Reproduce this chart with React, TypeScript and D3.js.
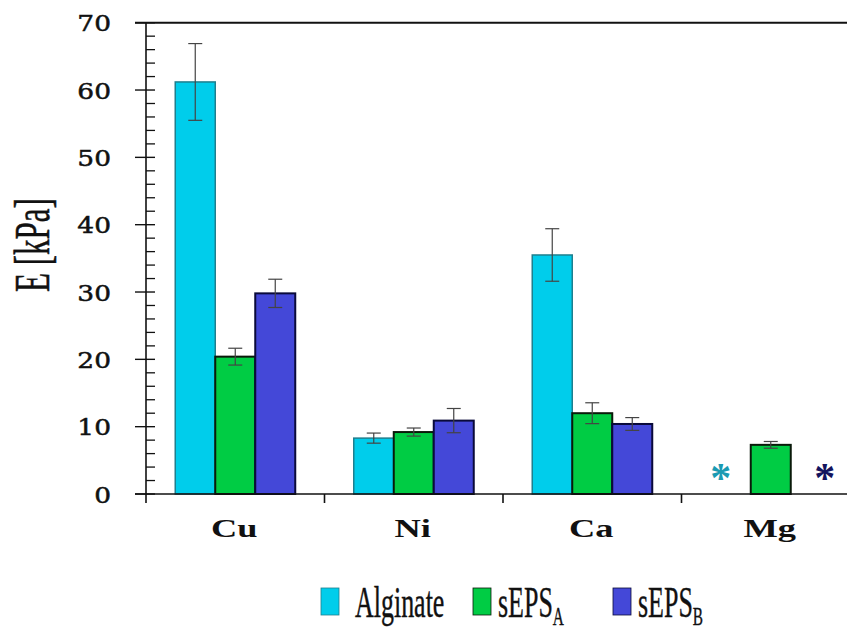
import React from "react";
import * as d3 from "d3";

const categories = ["Cu", "Ni", "Ca", "Mg"];
const series = ["Alginate", "sEPS_A", "sEPS_B"];
// values per series (null = not measured, marked with *)
const alginate: (number | null)[] = [61.2, 8.3, 35.5, null];
const sepsA: (number | null)[] = [20.4, 9.2, 12.0, 7.3];
const sepsB: (number | null)[] = [29.8, 10.9, 10.4, null];
const alginateErr = [5.7, 0.75, 3.9, 0];
const sepsAErr = [1.25, 0.6, 1.55, 0.5];
const sepsBErr = [2.1, 1.8, 0.95, 0];
const yTicks = [0, 10, 20, 30, 40, 50, 60, 70];
const yMinorTicks = d3.range(0, 70, 2).filter((v) => v % 10 !== 0);

const W = 847;
const H = 637;
const colors: Record<string, string> = { Alginate: "#00CDEB", sEPS_A: "#00CC44", sEPS_B: "#4448D8" };
const strokes: Record<string, string> = { Alginate: "#1E7F8E", sEPS_A: "#0A1A0A", sEPS_B: "#0A0A3A" };
const starColors: Record<string, string> = { Alginate: "#1A9AB2", sEPS_B: "#14145E" };

export default function App() {
  const axisX = 146;
  const y = d3.scaleLinear().domain([0, 70]).range([494, 22.7]);
  const xCat = d3.scaleBand().domain(categories).range([axisX, 860]).padding(0);
  const groupW = 120;
  const xSub = d3.scaleBand().domain(series).range([0, groupW]).padding(0);
  const bw = xSub.bandwidth();
  const barX = (c: string, s: string) => (xCat(c) as number) + (xCat.bandwidth() - groupW) / 2 + (xSub(s) as number);

  const dataBy: Record<string, (number | null)[]> = { Alginate: alginate, sEPS_A: sepsA, sEPS_B: sepsB };
  const errBy: Record<string, number[]> = { Alginate: alginateErr, sEPS_A: sepsAErr, sEPS_B: sepsBErr };
  const starOffset: Record<string, number> = { Alginate: -10, sEPS_B: 14 };

  const serif = "'Liberation Serif', 'Times New Roman', serif";
  const legendItems = [
    { s: "Alginate", sw: 321, tx: 355, main: "Alginate", sub: "" },
    { s: "sEPS_A", sw: 473, tx: 498, main: "sEPS", sub: "A" },
    { s: "sEPS_B", sw: 613, tx: 638, main: "sEPS", sub: "B" },
  ];

  return (
    <svg width={W} height={H} style={{ position: "absolute", left: 0, top: 0, background: "#fff" }}>
      {/* bars */}
      {series.map((s) =>
        categories.map((c, i) => {
          const v = dataBy[s][i];
          const x = barX(c, s);
          if (v == null) {
            return (
              <text
                key={s + c}
                x={x + bw / 2 + starOffset[s]}
                y={y(0) - 2}
                textAnchor="middle"
                fontFamily={serif}
                fontWeight="bold"
                fontSize={42}
                fill={starColors[s]}
              >
                *
              </text>
            );
          }
          return (
            <rect
              key={s + c}
              x={x}
              y={y(v)}
              width={bw}
              height={y(0) - y(v)}
              fill={colors[s]}
              stroke={strokes[s]}
              strokeWidth={s === "Alginate" ? 1.5 : 2}
            />
          );
        })
      )}
      {/* error bars */}
      {series.map((s) =>
        categories.map((c, i) => {
          const v = dataBy[s][i];
          const e = errBy[s][i];
          if (v == null || !e) return null;
          const cx = barX(c, s) + bw / 2;
          const capW = 7;
          return (
            <g key={"e" + s + c} stroke="#444" strokeWidth={1.2}>
              <line x1={cx} x2={cx} y1={y(v + e)} y2={y(v - e)} />
              <line x1={cx - capW} x2={cx + capW} y1={y(v + e)} y2={y(v + e)} />
              <line x1={cx - capW} x2={cx + capW} y1={y(v - e)} y2={y(v - e)} />
            </g>
          );
        })
      )}
      {/* axes */}
      <line x1={135} x2={W} y1={y(70)} y2={y(70)} stroke="#111" strokeWidth={2} />
      <line x1={135} x2={W} y1={y(0)} y2={y(0)} stroke="#111" strokeWidth={1.6} />
      <line x1={axisX} x2={axisX} y1={y(70)} y2={y(0) + 9} stroke="#111" strokeWidth={1.6} />
      {yTicks.map((t) => (
        <g key={"t" + t}>
          <line x1={135} x2={155} y1={y(t)} y2={y(t)} stroke="#111" strokeWidth={1.4} />
          <text
            transform={`translate(111,${y(t) + 8.7}) scale(1.15,1)`}
            textAnchor="end"
            fontFamily="'DejaVu Serif', serif"
            fontSize={23}
            fill="#111"
            stroke="#111"
            strokeWidth={0.5}
          >
            {t}
          </text>
        </g>
      ))}
      {yMinorTicks.map((t) => (
        <line key={"m" + t} x1={axisX} x2={155} y1={y(t)} y2={y(t)} stroke="#111" strokeWidth={1.3} />
      ))}
      {categories.slice(1).map((c) => (
        <line
          key={"ct" + c}
          x1={xCat(c) as number}
          x2={xCat(c) as number}
          y1={y(0)}
          y2={y(0) + 9}
          stroke="#111"
          strokeWidth={1.6}
        />
      ))}
      {categories.map((c) => (
        <text
          key={"cl" + c}
          transform={`translate(${(xCat(c) as number) + xCat.bandwidth() / 2 - 1},537) scale(1.4,1)`}
          textAnchor="middle"
          fontFamily={serif}
          fontWeight="bold"
          fontSize={26}
          fill="#111"
        >
          {c}
        </text>
      ))}
      {/* y label */}
      <text
        transform="translate(49,245) rotate(-90) scale(0.62,1)"
        textAnchor="middle"
        fontFamily={serif}
        fontSize={50}
        fill="#111"
        stroke="#111"
        strokeWidth={0.5}
      >
        E [kPa]
      </text>
      {/* legend */}
      {legendItems.map((it) => (
        <g key={"l" + it.s}>
          <rect x={it.sw} y={588} width={18} height={27} fill={colors[it.s]} stroke={strokes[it.s]} strokeWidth={0.8} />
          <text
            transform={`translate(${it.tx},617) scale(0.59,1)`}
            fontFamily={serif}
            fontSize={44}
            fill="#111"
            stroke="#111"
            strokeWidth={0.4}
          >
            {it.main}
            {it.sub ? (
              <tspan fontSize={26} dy={8}>
                {it.sub}
              </tspan>
            ) : null}
          </text>
        </g>
      ))}
    </svg>
  );
}
